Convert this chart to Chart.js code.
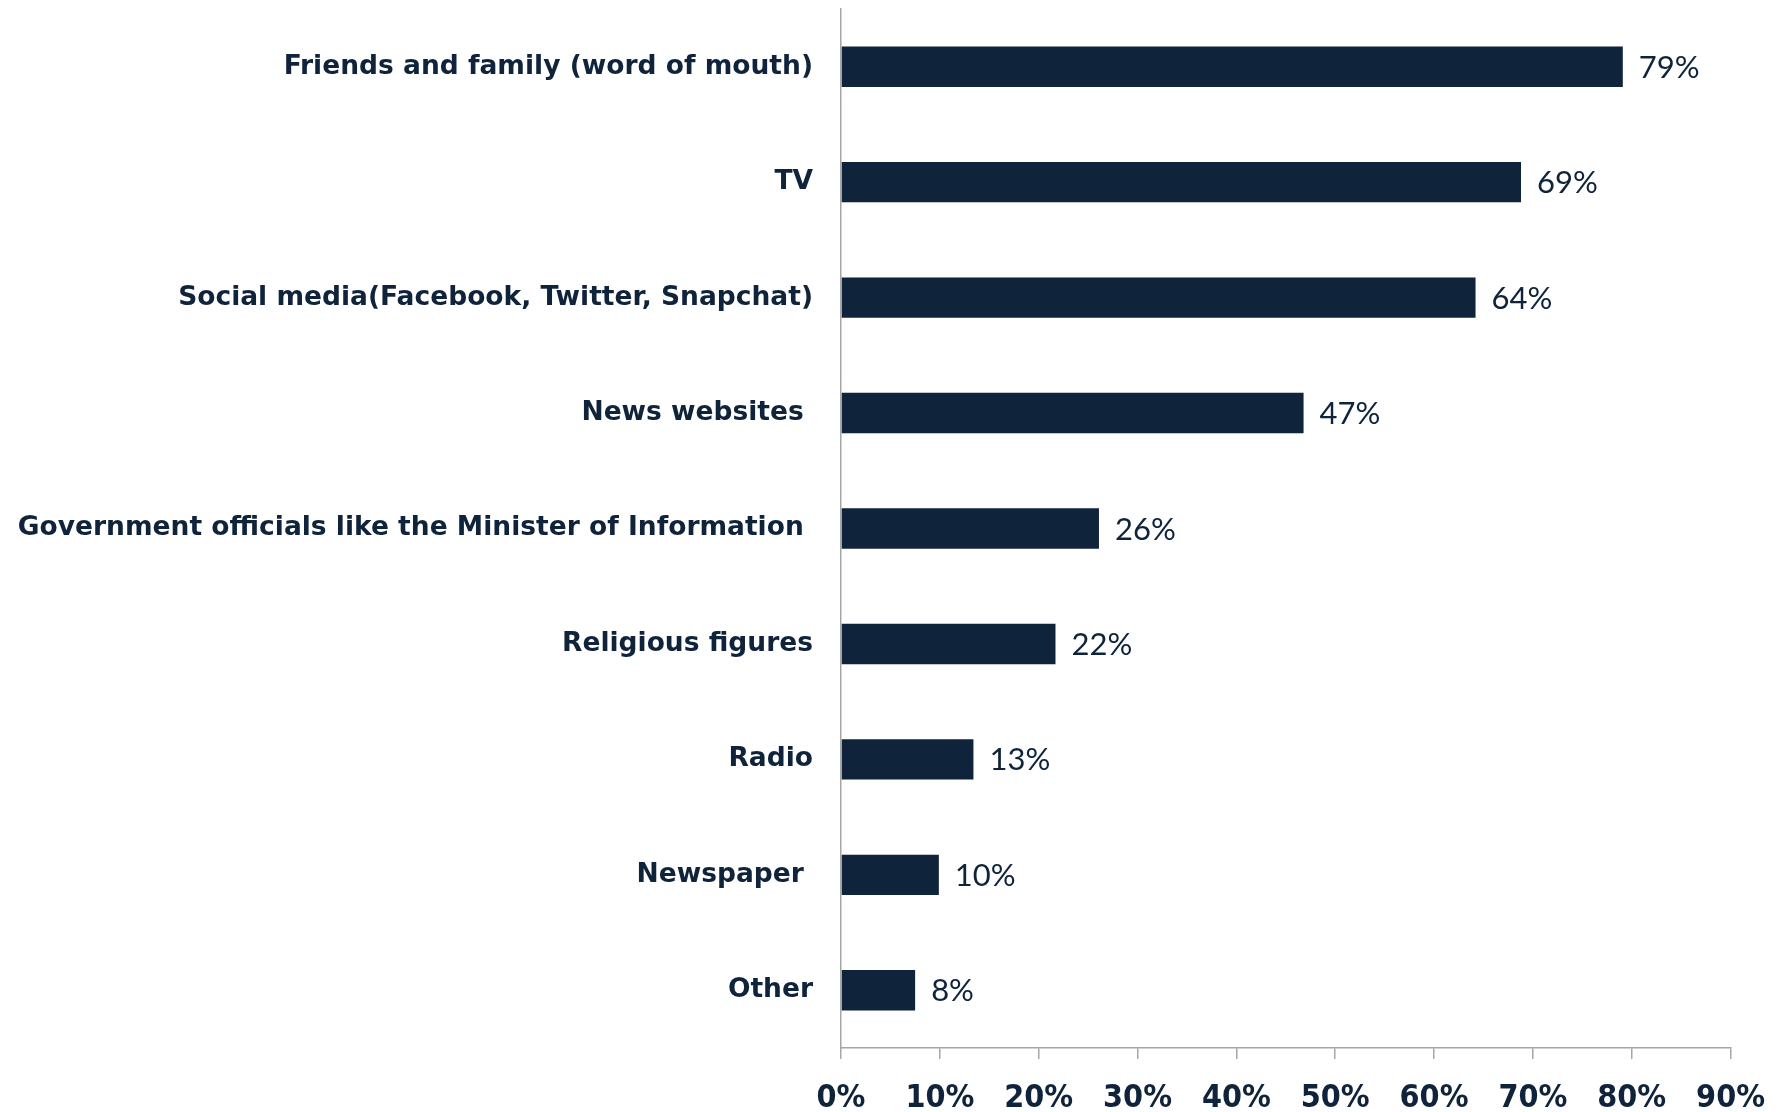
<!DOCTYPE html>
<html>
<head>
<meta charset="utf-8">
<script src="https://cdn.jsdelivr.net/npm/chart.js@4"></script>
<style>
  html, body { margin: 0; padding: 0; background: #fff; }
  #wrap { width: 1785px; height: 1112px; }
</style>
</head>
<body>
<div id="wrap"><canvas id="sources-chart" width="1785" height="1112"></canvas></div>
<script>
var categories = [
    'Friends and family (word of mouth)',
    'TV',
    'Social media(Facebook, Twitter, Snapchat)',
    'News websites ',
    'Government officials like the Minister of Information ',
    'Religious figures',
    'Radio',
    'Newspaper ',
    'Other'
];
var shares = [79.1, 68.8, 64.2, 46.8, 26.1, 21.7, 13.4, 9.9, 7.5];
var xTicks = [0, 10, 20, 30, 40, 50, 60, 70, 80, 90];

var navy = '#0f233b';
var axisGrey = '#a6a6a6';

// value labels at the end of each bar
var barLabels = {
    id: 'barLabels',
    afterDatasetsDraw: function(chart) {
        var ctx = chart.ctx;
        var meta = chart.getDatasetMeta(0);
        ctx.save();
        ctx.font = '31px Lato';
        ctx.fillStyle = navy;
        ctx.textAlign = 'left';
        ctx.textBaseline = 'middle';
        meta.data.forEach(function(bar, i) {
            ctx.fillText(Math.round(shares[i]) + '%', bar.x + 16, bar.y + 1);
        });
        ctx.restore();
    }
};

var ctx = document.getElementById('sources-chart').getContext('2d');

var chart = new Chart(ctx, {
    type: 'bar',
    data: {
        labels: categories,
        datasets: [{
            data: shares,
            backgroundColor: navy,
            borderWidth: 0,
            categoryPercentage: 1,
            barPercentage: 0.35
        }]
    },
    plugins: [barLabels],
    options: {
        indexAxis: 'y',
        responsive: false,
        animation: false,
        layout: {
            padding: { top: 9, right: 54, left: 0, bottom: 0 }
        },
        plugins: {
            legend: { display: false },
            tooltip: { enabled: false }
        },
        scales: {
            x: {
                min: 0,
                max: 90,
                afterBuildTicks: function(scale) {
                    scale.ticks = xTicks.map(function(v) { return { value: v }; });
                },
                afterFit: function(scale) {
                    scale.height = 64;
                },
                border: { color: axisGrey, width: 1.5 },
                grid: {
                    drawOnChartArea: false,
                    drawTicks: true,
                    tickLength: 11,
                    color: axisGrey,
                    lineWidth: 1.5
                },
                ticks: {
                    padding: 20,
                    color: navy,
                    maxRotation: 0,
                    autoSkip: false,
                    font: { family: 'DejaVu Sans Condensed', weight: 'bold', size: 32 },
                    callback: function(v) { return v + '%'; }
                }
            },
            y: {
                afterFit: function(scale) {
                    scale.width = 841;
                    scale.paddingTop = 0;
                    scale.paddingBottom = 0;
                },
                border: { color: axisGrey, width: 1.5 },
                grid: { display: false, drawTicks: false },
                ticks: {
                    padding: 28,
                    color: navy,
                    autoSkip: false,
                    font: { family: 'DejaVu Sans', weight: 'bold', size: 26.5 }
                }
            }
        }
    }
});
</script>
</body>
</html>
